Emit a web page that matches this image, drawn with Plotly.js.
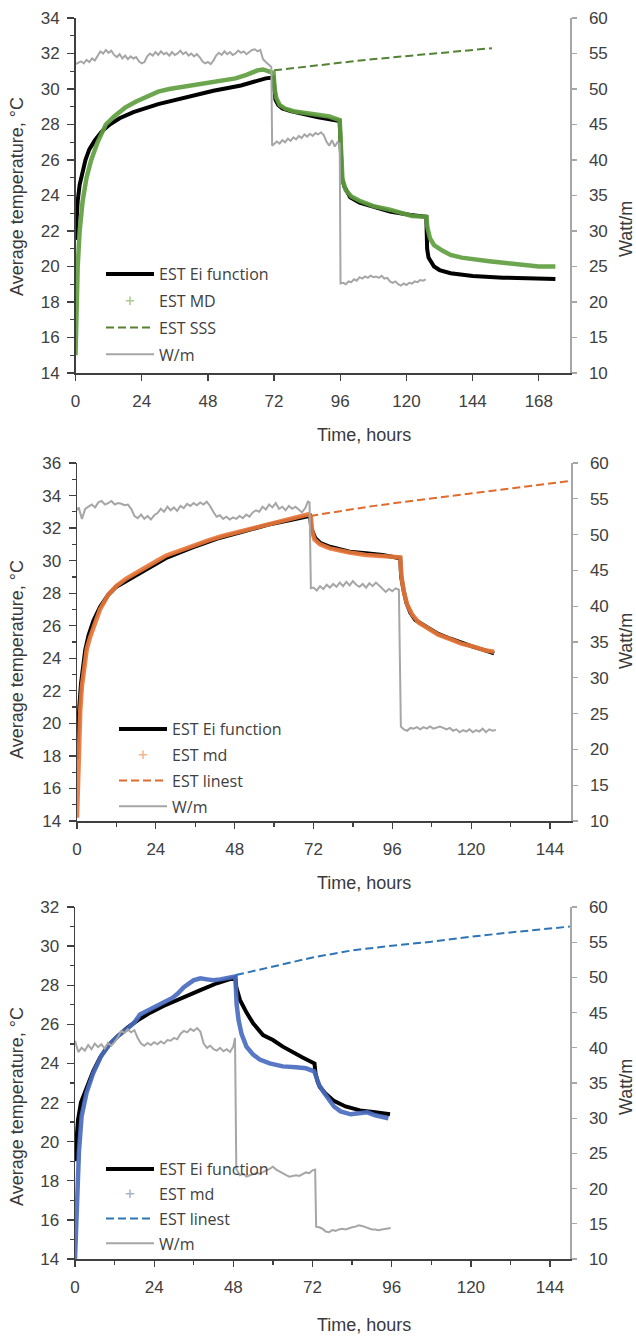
<!DOCTYPE html>
<html><head><meta charset="utf-8">
<script src="https://cdn.plot.ly/plotly-3.0.1.min.js"></script>
<style>html,body{margin:0;padding:0;background:#fff}#chart{width:636px;height:1338px}</style>
</head><body><div id="chart"></div>
<script>
// ---------------- DATA ----------------
// Panel 1: [time h, value]
const p1_ei = [[0,21.5],[0.3,22.5],[0.8,23.7],[1.5,24.6],[2.5,25.4],[3.6,26.0],[5,26.6],[7,27.1],[9.5,27.6],[12.4,28.0],[16,28.35],[21,28.7],[30,29.15],[40,29.55],[45,29.7],[50,29.9],[60,30.2],[69,30.6],[71.8,30.65],[72.1,29.9],[72.5,29.4],[73.5,29.1],[75,28.9],[78,28.75],[82,28.6],[88,28.4],[95.8,28.2],[96.2,26.2],[96.6,25.0],[97.5,24.5],[99.6,23.9],[103,23.6],[108,23.35],[114,23.1],[121.5,22.9],[127.2,22.8],[127.5,21.0],[128,20.5],[130,20.0],[132,19.8],[136,19.62],[144,19.46],[155,19.37],[165,19.33],[174,19.3]];
const p1_md = [[0,15.0],[0.3,17.5],[0.8,20.0],[1.5,22.0],[2.6,23.7],[4,25.0],[5.7,26.0],[8,27.0],[11,28.0],[14,28.45],[18,28.95],[22,29.3],[26,29.6],[30,29.85],[34,30.0],[38,30.1],[42,30.2],[46,30.25],[50,30.35],[54,30.45],[58,30.6],[62,30.8],[66,31.05],[68,31.1],[70,31.0],[71.8,30.9],[72.2,30.0],[72.8,29.5],[74,29.1],[76,28.9],[79,28.75],[83,28.65],[88,28.5],[92,28.45],[95.8,28.25],[96.3,26.0],[96.8,24.9],[98,24.3],[100,23.95],[103,23.7],[108,23.4],[114,23.2],[118,23.0],[122,22.85],[127.2,22.8],[127.6,22.2],[128.5,21.6],[130,21.2],[133,20.9],[136,20.65],[140,20.5],[144,20.4],[150,20.3],[156,20.2],[162,20.1],[168,20.0],[174,20.0]];
const p1_sss = [[72,31.05],[80,31.2],[90,31.38],[100,31.55],[110,31.71],[120,31.86],[130,32.0],[140,32.15],[151,32.3]];
const p1_w = [[0,53.5],[1,53.7],[2,53.9],[3,53.6],[4,54.1],[5,53.8],[6,54.3],[7,54.0],[8,54.6],[9,55.3],[10,55.0],[11,55.5],[12,55.1],[13,55.4],[14,54.8],[15,54.5],[16,54.9],[17,54.3],[18,54.7],[19,54.2],[20,54.6],[21,54.3],[22,54.5],[23,53.9],[24,53.6],[25,53.8],[26,54.6],[27,55.0],[28,54.7],[29,55.2],[30,54.8],[31,55.3],[32,54.9],[33,55.1],[34,54.7],[35,55.2],[36,54.8],[37,55.0],[38,55.4],[39,54.9],[40,55.2],[41,54.7],[42,55.0],[43,54.6],[44,54.9],[45,54.5],[46,53.9],[47,53.6],[48,53.8],[49,53.5],[50,54.0],[51,54.7],[52,55.1],[53,54.8],[54,55.3],[55,54.9],[56,55.2],[57,54.8],[58,55.0],[59,55.4],[60,55.1],[61,55.3],[62,54.9],[63,55.2],[64,55.5],[65,55.6],[66,55.3],[67,55.5],[68,54.2],[69,53.8],[70,53.4],[71,53.1],[71.3,42.0],[72,42.2],[73,42.6],[74,42.3],[75,42.8],[76,42.5],[77,43.0],[78,42.7],[79,43.2],[80,42.9],[81,43.4],[82,43.1],[83,43.6],[84,43.3],[85,43.7],[86,43.4],[87,43.8],[88,43.6],[89,43.9],[90,43.5],[91,42.6],[92,42.0],[93,42.8],[94,41.9],[95,42.5],[95.8,42.3],[96.1,22.6],[97,22.7],[98,22.5],[99,22.9],[100,22.8],[101,23.2],[102,23.0],[103,23.5],[104,23.3],[105,23.6],[106,23.4],[107,23.7],[108,23.5],[109,23.6],[110,23.4],[111,23.7],[112,23.3],[113,23.4],[114,22.9],[115,22.7],[116,22.9],[117,22.5],[118,22.3],[119,22.6],[120,22.4],[121,22.7],[122,22.6],[123,22.9],[124,22.8],[125,23.1],[126,23.0],[127,23.2]];

// Panel 2
const p2_ei = [[0,17.8],[0.3,19.5],[0.7,21.0],[1.2,22.4],[1.8,23.6],[2.5,24.5],[3.5,25.4],[5,26.3],[7,27.15],[9.5,27.9],[12,28.4],[17,29.0],[22,29.6],[27,30.15],[35,30.8],[42.7,31.35],[50,31.75],[58,32.2],[65,32.5],[70,32.7],[71,32.75],[71.3,32.0],[71.8,31.7],[72.5,31.4],[74,31.1],[77,30.85],[80,30.7],[83,30.55],[88,30.45],[93,30.35],[98.4,30.15],[98.7,29.0],[99.4,28.2],[100.3,27.4],[101.5,26.8],[103,26.35],[106.7,25.9],[110,25.5],[113.7,25.2],[117,24.95],[120.7,24.7],[124,24.5],[127,24.3]];
const p2_md = [[0,14.2],[0.2,16.0],[0.5,18.5],[1,20.8],[1.5,22.3],[2.2,23.6],[3,24.6],[4,25.3],[5.5,26.2],[7,27.0],[9.5,27.9],[12,28.45],[15,28.9],[17,29.15],[20,29.5],[24,29.95],[27,30.3],[31,30.6],[35,30.9],[40,31.25],[44,31.5],[48,31.7],[52,31.9],[56,32.1],[60,32.3],[64,32.5],[68,32.7],[70.5,32.85],[71.2,32.7],[71.6,31.8],[72.3,31.3],[74,31.0],[77,30.75],[80,30.6],[83,30.5],[88,30.35],[93,30.3],[98.4,30.2],[98.8,29.0],[99.5,28.1],[100.5,27.3],[102,26.7],[104,26.2],[107,25.8],[110,25.45],[114,25.15],[117,24.9],[121,24.7],[124,24.5],[127,24.4]];
const p2_lin = [[71,32.75],[80,33.05],[90,33.35],[100,33.62],[110,33.88],[120,34.12],[130,34.37],[140,34.62],[151,34.92]];
const p2_w = [[0,53.4],[0.5,53.8],[1.5,52.2],[2.5,53.6],[3.5,53.9],[4.5,54.2],[5.5,53.8],[6.5,54.5],[7.5,54.7],[8.5,54.2],[9.5,54.4],[10.5,54.7],[11.5,54.2],[12.5,54.4],[13.5,54.3],[14.5,54.1],[15.5,54.2],[16.5,53.6],[17.5,52.6],[18.5,52.3],[19.5,52.8],[20.5,52.2],[21.5,52.6],[22.5,52.1],[23.5,52.7],[24.5,53.0],[25.5,53.6],[26.5,53.2],[27.5,53.9],[28.5,53.4],[29.5,53.8],[30.5,53.3],[31.5,54.0],[32.5,53.7],[33.5,54.3],[34.5,54.0],[35.5,54.4],[36.5,54.1],[37.5,54.5],[38.5,54.2],[39.5,54.6],[40.5,54.0],[41.5,53.2],[42.5,52.5],[43.5,52.7],[44.5,52.2],[45.5,52.5],[46.5,52.1],[47.5,52.4],[48.5,52.2],[49.5,52.6],[50.5,52.3],[51.5,52.8],[52.5,52.5],[53.5,53.1],[54.5,53.4],[55.5,53.2],[56.5,53.9],[57.5,53.5],[58.5,54.2],[59.5,53.8],[60.5,54.4],[61.5,53.6],[62.5,53.9],[63.5,53.4],[64.5,54.0],[65.5,53.6],[66.5,53.9],[67.5,53.5],[68.5,53.1],[69.5,53.7],[70.3,54.6],[70.8,54.5],[71.2,42.5],[72,42.6],[73,42.2],[74,42.8],[75,42.4],[76,43.0],[77,42.6],[78,43.1],[79,42.7],[80,43.3],[81,42.8],[82,43.4],[83,42.9],[84,43.5],[85,43.0],[86,42.7],[87,43.1],[88,42.6],[89,43.2],[90,42.8],[91,43.3],[92,42.9],[93,42.4],[94,42.0],[95,42.4],[96,42.1],[97,42.5],[98,42.3],[98.6,23.2],[99.5,22.8],[100.5,22.6],[101.5,23.0],[102.5,22.9],[103.5,23.1],[104.5,22.8],[105.5,23.1],[106.5,22.9],[107.5,23.2],[108.5,22.9],[109.5,23.1],[110.5,23.2],[111.5,23.0],[112.5,22.8],[113.5,23.0],[114.5,22.6],[115.5,22.8],[116.5,22.4],[117.5,22.7],[118.5,22.5],[119.5,22.8],[120.5,22.4],[121.5,22.7],[122.5,22.5],[123.5,22.9],[124.5,22.4],[125.5,22.8],[126.5,22.6],[127.5,22.7]];

// Panel 3
const p3_ei = [[0,19.0],[0.3,20.0],[0.9,21.1],[1.8,22.0],[3.6,22.8],[5.5,23.6],[7.6,24.3],[10,24.9],[12.7,25.35],[16,25.85],[19,26.2],[22.8,26.6],[27,26.95],[32.8,27.4],[38,27.75],[43,28.1],[46,28.25],[48.6,28.4],[48.9,27.9],[49.4,27.5],[50,27.25],[52,26.6],[54,26.05],[57,25.45],[60,25.2],[63,24.86],[66,24.55],[69,24.3],[72.6,24.0],[72.9,23.5],[73.5,23.1],[74.2,22.8],[76,22.45],[78.3,22.1],[82,21.8],[86.4,21.6],[91,21.5],[95.5,21.4]];
const p3_md = [[0,14.0],[0.3,15.5],[0.7,17.5],[1.2,19.5],[2,21.3],[3.5,22.5],[5.5,23.5],[8,24.4],[10.6,25.0],[13,25.4],[15.7,25.75],[18,26.1],[19.7,26.5],[22,26.7],[25,26.95],[27.9,27.25],[29.5,27.35],[31,27.55],[33,27.9],[35.9,28.25],[38,28.35],[40,28.3],[42,28.25],[44,28.3],[46,28.35],[48,28.45],[48.6,28.45],[49,27.0],[49.6,26.2],[50.5,25.5],[52,24.85],[54,24.45],[56,24.2],[59,24.0],[63,23.85],[67,23.8],[70,23.75],[72.5,23.6],[73,23.3],[74,22.9],[75.5,22.5],[77,22.1],[78.5,21.8],[80.5,21.55],[83.6,21.4],[86,21.45],[88.6,21.5],[91,21.35],[93,21.3],[95,21.2]];
const p3_lin = [[48.8,28.52],[60,28.95],[68,29.28],[72,29.42],[84,29.78],[96,30.02],[108,30.22],[120,30.48],[132,30.7],[144,30.9],[150,31.0]];
const p3_w = [[0,41.0],[0.5,40.2],[1,39.4],[2,40.0],[3,39.6],[4,40.4],[5,39.8],[6,40.6],[7,40.1],[8,40.5],[9,39.9],[10,40.7],[11,40.3],[12,40.8],[13,41.5],[14,42.4],[15,42.1],[16,42.6],[17,42.2],[18,42.5],[19,41.4],[20,40.6],[21,40.3],[22,40.7],[23,40.4],[24,40.8],[25,40.5],[26,40.9],[27,40.6],[28,41.1],[29,41.0],[30,41.4],[31,41.2],[32,42.0],[33,42.4],[34,42.2],[35,42.7],[36,42.4],[37,42.8],[38,42.3],[39,40.6],[40,40.0],[41,40.3],[42,39.8],[43,39.6],[44,40.0],[45,39.5],[46,39.8],[47,39.4],[48,40.2],[48.5,41.4],[48.9,22.8],[49.5,22.3],[50,21.9],[51,22.1],[52,21.7],[53,21.9],[54,22.0],[55,22.2],[56,22.1],[57,22.4],[58,22.6],[59,22.8],[60,23.1],[61,22.7],[62,22.4],[63,22.1],[64,21.9],[65,21.7],[66,21.8],[67,21.9],[68,21.8],[69,22.1],[70,22.3],[71,22.2],[72,22.6],[72.8,22.7],[73.1,14.6],[74,14.5],[75,14.3],[76,13.9],[77,13.8],[78,14.1],[79,14.0],[80,14.2],[81,14.3],[82,14.2],[83,14.4],[84,14.5],[85,14.6],[86,14.8],[87,14.7],[88,14.5],[89,14.4],[90,14.2],[91,14.2],[92,14.1],[93,14.2],[94,14.3],[95,14.3],[95.7,14.4]];

// Labels
const legendNames = [
  ['EST Ei function','EST MD','EST SSS','W/m'],
  ['EST Ei function','EST md','EST linest','W/m'],
  ['EST Ei function','EST md','EST linest','W/m']
];
const xTitle = 'Time, hours';
const yTitle = 'Average temperature, °C';
const y2Title = 'Watt/m';

// ---------------- STYLE / LAYOUT ----------------
const W = 636, H = 1338;
const fx = p => p / W, fy = p => 1 - p / H;
const FONT = '"Liberation Sans", Arial, sans-serif';
const tickFont = {family: FONT, size: 17, color: '#404040'};
const titleFont = {family: FONT, size: 18, color: '#3a3a3a'};
const legFont = {family: '"Open Sans", sans-serif', size: 16, color: '#404040'};

const panels = [
  {ei:p1_ei, md:p1_md, ext:p1_sss, w:p1_w, names:legendNames[0], xDom:[75.5,570], yDom:[18,373], xMax:179.3, yr:[14,34], minorX:false,
   mdColor:'#5f9e3f', mdLeg:'#a9c98f', extColor:'#548235', leg:{x:101, y:257, gap:3}, yTitleY:197, y2TitleY:229, xTitleY:435},
  {ei:p2_ei, md:p2_md, ext:p2_lin, w:p2_w, names:legendNames[1], xDom:[77,571], yDom:[463,821], xMax:150.4, yr:[14,36], minorX:true,
   mdColor:'#e8773a', mdLeg:'#f2b48e', extColor:'#e06b2c', leg:{x:114, y:712, gap:2}, yTitleY:660, y2TitleY:641, xTitleY:883},
  {ei:p3_ei, md:p3_md, ext:p3_lin, w:p3_w, names:legendNames[2], xDom:[75,570], yDom:[907,1259], xMax:150.05, yr:[14,32], minorX:true,
   mdColor:'#4a6cc0', mdLeg:'#a7b1cc', extColor:'#2e75b6', leg:{x:101, y:1152, gap:1}, yTitleY:1107, y2TitleY:1087, xTitleY:1325}
];

const col = (arr, i) => arr.map(r => r[i]);
const traces = [];
const layout = {
  width: W, height: H, margin: {l:0, r:0, t:0, b:0},
  paper_bgcolor: '#fff', plot_bgcolor: 'rgba(0,0,0,0)',
  showlegend: true, annotations: []
};

panels.forEach((p, i) => {
  const xId = i === 0 ? 'x' : 'x' + (i + 1);
  const yNum = 2 * i + 1;
  const yId = yNum === 1 ? 'y' : 'y' + yNum;
  const y2Id = 'y' + (yNum + 1);
  const legId = i === 0 ? 'legend' : 'legend' + (i + 1);

  traces.push({x:col(p.ei,0), y:col(p.ei,1), xaxis:xId, yaxis:yId, mode:'lines', name:p.names[0],
    line:{color:'#000', width:4}, legend:legId, legendgroup:'a'+i, hoverinfo:'skip'});
  traces.push({x:col(p.md,0), y:col(p.md,1), xaxis:xId, yaxis:yId, mode:'lines', name:p.names[1],
    line:{color:p.mdColor, width:4.5}, opacity:0.92, showlegend:false, legend:legId, legendgroup:'b'+i, hoverinfo:'skip'});
  traces.push({x:[null], y:[null], xaxis:xId, yaxis:yId, mode:'markers', name:p.names[1],
    marker:{symbol:'cross-thin', size:6, line:{color:p.mdLeg, width:1.5}, color:p.mdLeg}, legend:legId, legendgroup:'b'+i});
  traces.push({x:col(p.ext,0), y:col(p.ext,1), xaxis:xId, yaxis:yId, mode:'lines', name:p.names[2],
    line:{color:p.extColor, width:2, dash:'8px,4px'}, legend:legId, legendgroup:'c'+i, hoverinfo:'skip'});
  traces.push({x:col(p.w,0), y:col(p.w,1), xaxis:xId, yaxis:y2Id, mode:'lines', name:p.names[3],
    line:{color:'#a6a6a6', width:2}, legend:legId, legendgroup:'d'+i, hoverinfo:'skip'});

  const xKey = i === 0 ? 'xaxis' : 'xaxis' + (i + 1);
  const yKey = yNum === 1 ? 'yaxis' : 'yaxis' + yNum;
  const y2Key = 'yaxis' + (yNum + 1);
  const yDomain = [fy(p.yDom[1]), fy(p.yDom[0])];

  layout[xKey] = {
    domain:[fx(p.xDom[0]), fx(p.xDom[1])], range:[0, p.xMax], anchor:yId,
    tickmode:'linear', tick0:0, dtick:24, ticks:'outside', ticklen:6, tickwidth:1.3, tickcolor:'#404040',
    showline:true, linecolor:'#404040', linewidth:1.5, showgrid:false, zeroline:false,
    tickfont:tickFont, ticklabelstandoff:6, automargin:false, fixedrange:true
  };
  if (p.minorX) layout[xKey].minor = {dtick:12, tick0:0, ticks:'outside', ticklen:4, tickwidth:1.3, tickcolor:'#404040', showgrid:false};

  layout[yKey] = {
    domain:yDomain, range:p.yr, anchor:xId,
    tickmode:'linear', tick0:p.yr[0], dtick:2, ticks:'outside', ticklen:7, tickwidth:1.3, tickcolor:'#404040',
    minor:{dtick:1, tick0:0, ticks:'outside', ticklen:4, tickwidth:1.3, tickcolor:'#404040', showgrid:false},
    showline:true, linecolor:'#404040', linewidth:1.5, showgrid:false, zeroline:false,
    tickfont:tickFont, ticklabelstandoff:4, automargin:false, fixedrange:true
  };
  layout[y2Key] = {
    domain:yDomain, range:[10,60], overlaying:yId, side:'right', anchor:xId,
    tickmode:'linear', tick0:10, dtick:5, ticks:'outside', ticklen:5, tickwidth:1.3, tickcolor:'#a6a6a6',
    showline:true, linecolor:'#a6a6a6', linewidth:1.5, showgrid:false, zeroline:false,
    tickfont:tickFont, ticklabelstandoff:9, automargin:false, fixedrange:true
  };

  layout[legId] = {
    x:fx(p.leg.x), y:fy(p.leg.y), xanchor:'left', yanchor:'top', xref:'paper', yref:'paper',
    bgcolor:'rgba(0,0,0,0)', borderwidth:0, font:legFont, itemwidth:48,
    traceorder:'grouped', tracegroupgap:p.leg.gap
  };

  layout.annotations.push(
    {text:yTitle, xref:'paper', yref:'paper', x:fx(17), y:fy(p.yTitleY), textangle:-90, showarrow:false,
     xanchor:'center', yanchor:'middle', font:titleFont},
    {text:y2Title, xref:'paper', yref:'paper', x:fx(626), y:fy(p.y2TitleY), textangle:-90, showarrow:false,
     xanchor:'center', yanchor:'middle', font:titleFont},
    {text:xTitle, xref:'paper', yref:'paper', x:fx(364), y:fy(p.xTitleY), showarrow:false,
     xanchor:'center', yanchor:'middle', font:titleFont}
  );
});

Plotly.newPlot('chart', traces, layout, {staticPlot:true, displayModeBar:false});
</script></body></html>
